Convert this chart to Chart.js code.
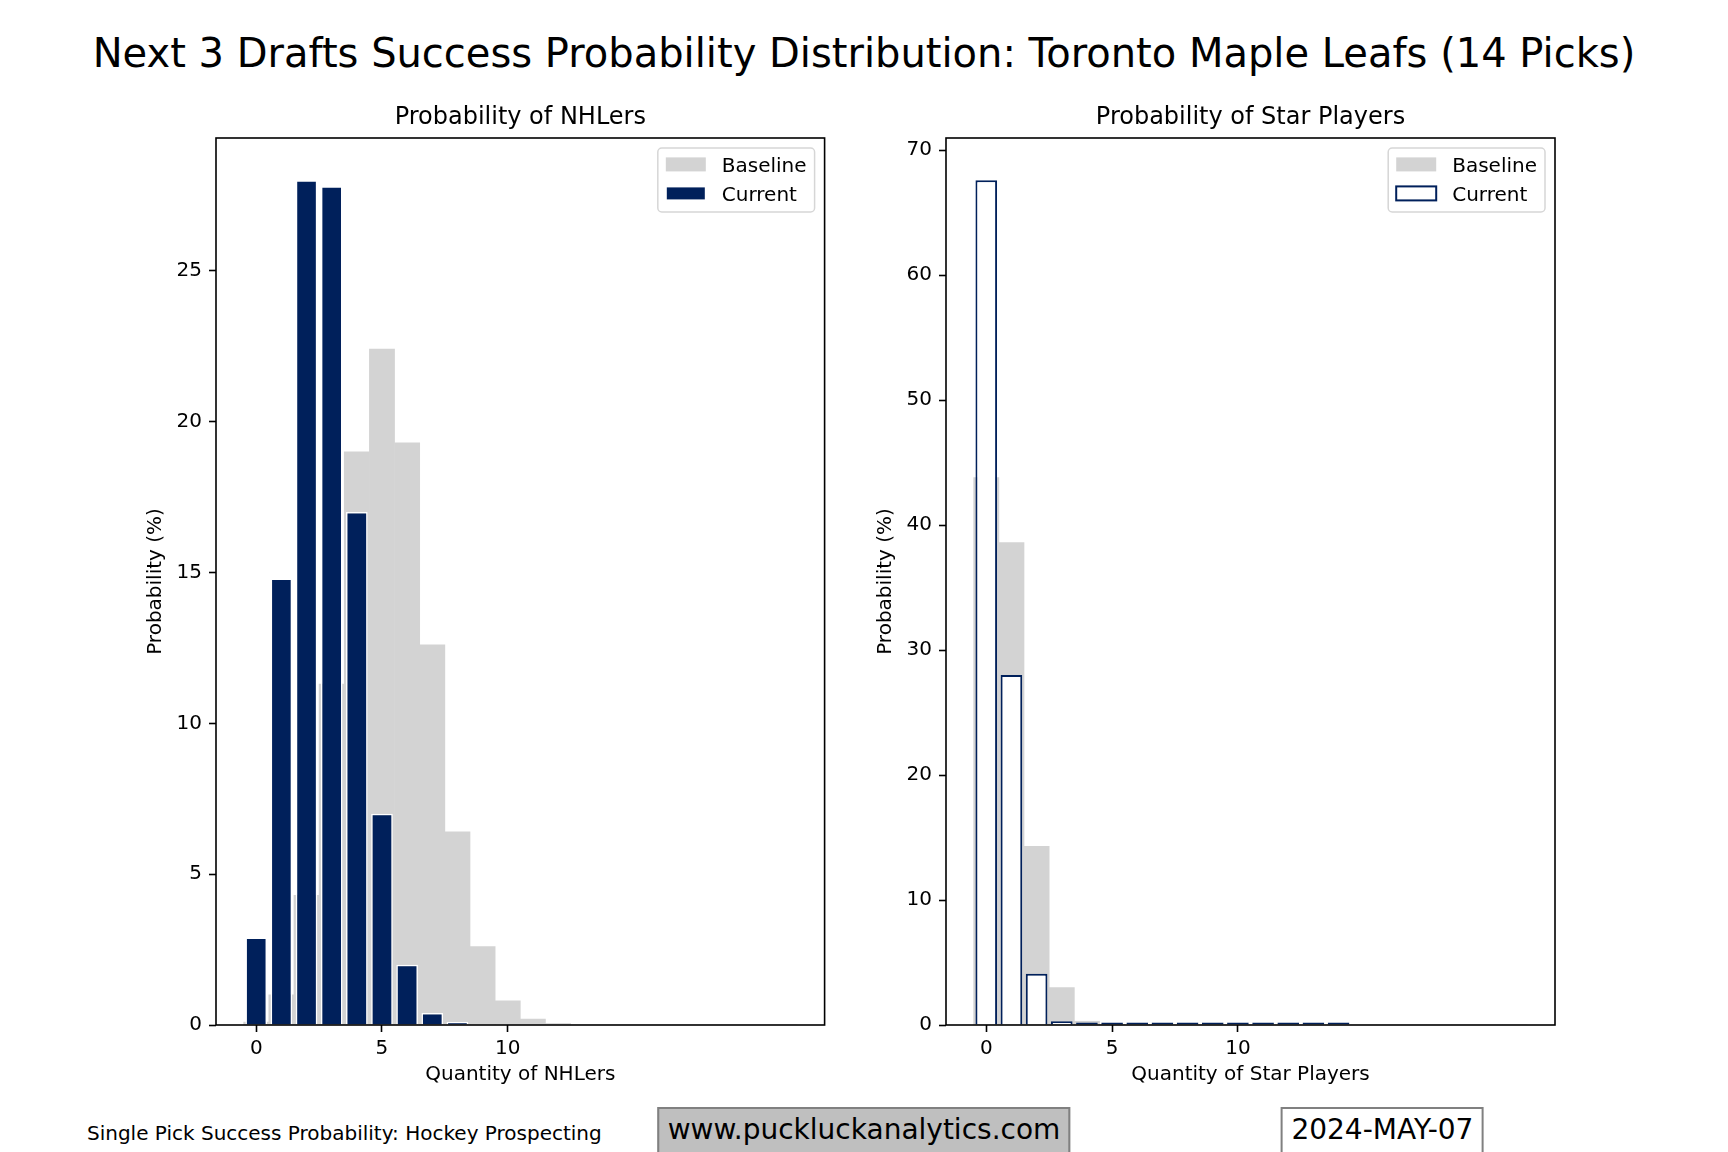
<!DOCTYPE html>
<html>
<head>
<meta charset="utf-8">
<title>Next 3 Drafts Success Probability Distribution</title>
<script src="https://cdn.jsdelivr.net/npm/chart.js@4.4.1/dist/chart.umd.min.js"></script>
<style>
  html, body { margin: 0; padding: 0; background: #fff; overflow: hidden; }
  body { width: 1728px; height: 1152px; position: relative; font-family: "DejaVu Sans", sans-serif; color: #000; }
  .abs { position: absolute; white-space: nowrap; line-height: 1; }
  #suptitle { left: 864px; top: 32.7px; font-size: 40px; transform: translateX(-50%); }
  #source { left: 87px; top: 1123px; font-size: 20px; }
  .tag { position: absolute; top: 1107px; transform: translateX(-50%); font-size: 28px; line-height: 28px;
         padding: 7px 8.4px 20px; border: 2px solid #808080; white-space: nowrap; }
  canvas { position: absolute; }
</style>
</head>
<body>
<div id="suptitle" class="abs">Next 3 Drafts Success Probability Distribution: Toronto Maple Leafs (14 Picks)</div>
<canvas id="nhlChart" width="740" height="1010" style="left:100px; top:80px;"></canvas>
<canvas id="starChart" width="760" height="1010" style="left:830px; top:80px;"></canvas>
<div id="source" class="abs">Single Pick Success Probability: Hockey Prospecting</div>
<div class="tag" style="left:864px; background:#bfbfbf;">www.puckluckanalytics.com</div>
<div class="tag" style="left:1382.4px; background:#fff;">2024-MAY-07</div>
<script>
// number of successful picks (baseline covers 21 picks, current 14)
const quantities = [0, 1, 2, 3, 4, 5, 6, 7, 8, 9, 10, 11, 12, 13, 14, 15, 16, 17, 18, 19, 20, 21];

// probability (%) of NHLers
const nhlBaseline = [0.1, 1.0, 4.3, 11.3, 19.0, 22.4, 19.3, 12.6, 6.4, 2.6, 0.8, 0.2, 0.05, 0, 0, 0, 0, 0, 0, 0, 0, 0];
const nhlCurrent = [2.9, 14.8, 28.0, 27.8, 17.0, 7.0, 2.0, 0.4, 0.1, 0, 0, 0, 0, 0, 0];

// probability (%) of star players
const starBaseline = [43.8, 38.6, 14.3, 3.0, 0.3, 0.03, 0, 0, 0, 0, 0, 0, 0, 0, 0, 0, 0, 0, 0, 0, 0, 0];
const starCurrent = [67.6, 28.0, 4.1, 0.3, 0, 0, 0, 0, 0, 0, 0, 0, 0, 0, 0];

// tick labels
const xTicks = [0, 5, 10];
const nhlYTicks = [0, 5, 10, 15, 20, 25];
const starYTicks = [0, 10, 20, 30, 40, 50, 60, 70];

const navy = '#00205b';
const lightGray = '#d3d3d3';

Chart.defaults.font.family = '"DejaVu Sans", sans-serif';
Chart.defaults.font.size = 20;
Chart.defaults.color = '#000';

const toPoints = (values) => values.map((v, i) => ({ x: quantities[i], y: v }));

// Box around the plot area, like matplotlib spines
const frame = {
  id: 'frame',
  afterDatasetsDraw(chart) {
    const { ctx, chartArea: a } = chart;
    ctx.save();
    ctx.strokeStyle = '#000';
    ctx.lineWidth = 1.6;
    ctx.strokeRect(a.left, a.top, a.right - a.left, a.bottom - a.top);
    ctx.restore();
  }
};

// Legend inside the plot area, upper right corner
const boxLegend = {
  id: 'boxLegend',
  afterDraw(chart) {
    const { ctx, chartArea: a } = chart;
    const items = chart.data.datasets.slice().sort((p, q) => q.order - p.order);
    ctx.save();
    ctx.font = '20px "DejaVu Sans"';
    const textW = Math.max(...items.map(d => ctx.measureText(d.label).width));
    const w = 8 + 40 + 16 + textW + 8;
    const h = 64;
    const x = a.right - 10 - w;
    const y = a.top + 10;
    ctx.beginPath();
    ctx.roundRect(x, y, w, h, 4);
    ctx.fillStyle = 'rgba(255,255,255,0.8)';
    ctx.fill();
    ctx.strokeStyle = '#d6d6d6';
    ctx.lineWidth = 1.5;
    ctx.stroke();
    items.forEach((d, i) => {
      const cy = y + 16.4 + i * 29;
      ctx.fillStyle = d.backgroundColor;
      ctx.fillRect(x + 8, cy - 7, 40, 14);
      if (d.borderWidth) {
        ctx.strokeStyle = d.borderColor;
        ctx.lineWidth = 2;
        ctx.strokeRect(x + 8, cy - 7, 40, 14);
      }
      ctx.fillStyle = '#000';
      ctx.textBaseline = 'alphabetic';
      ctx.fillText(d.label, x + 64, cy + 7.2);
    });
    ctx.restore();
  }
};

const tickGrid = {
  display: true, drawOnChartArea: false, drawTicks: true,
  tickLength: 7, tickWidth: 1.6, tickColor: '#000', offset: false
};

const makeOptions = (title, xTitle, yMax, yTicks, padRight) => ({
  responsive: false,
  animation: false,
  layout: { padding: { left: 0, right: padRight, top: 0, bottom: 0 } },
  plugins: {
    legend: { display: false },
    tooltip: { enabled: false },
    title: {
      display: true, text: title, color: '#000', fullSize: false,
      font: { size: 24, weight: 'normal', lineHeight: 1.2 },
      padding: { top: 23.3, bottom: 5.9 }
    }
  },
  scales: {
    x: {
      type: 'linear',
      min: quantities[0] - 0.5 - 0.05 * quantities.length,
      max: quantities[quantities.length - 1] + 0.5 + 0.05 * quantities.length,
      offset: false,
      afterBuildTicks: (s) => { s.ticks = xTicks.map(v => ({ value: v })); },
      afterFit: (s) => { s.height = 65; },
      ticks: { padding: 5, maxRotation: 0, autoSkip: false },
      grid: tickGrid,
      border: { display: false },
      title: { display: true, text: xTitle, padding: { top: 0, bottom: 3.2 }, font: { size: 20, lineHeight: 1.2 } }
    },
    y: {
      type: 'linear',
      min: 0,
      max: yMax,
      afterBuildTicks: (s) => { s.ticks = yTicks.map(v => ({ value: v })); },
      afterFit: (s) => { s.width = 116; },
      ticks: { padding: 7 },
      grid: tickGrid,
      border: { display: false },
      title: { display: true, text: 'Probability (%)', padding: { top: 44, bottom: 0 }, font: { size: 20, lineHeight: 1.2 } }
    }
  }
});

new Chart(document.getElementById('nhlChart'), {
  type: 'bar',
  data: {
    datasets: [
      {
        label: 'Baseline', data: toPoints(nhlBaseline), order: 2, grouped: false,
        backgroundColor: lightGray, borderWidth: 0, barPercentage: 1, categoryPercentage: 1
      },
      {
        label: 'Current', data: toPoints(nhlCurrent), order: 1, grouped: false,
        backgroundColor: navy, borderColor: '#fff', borderWidth: 1.5, barPercentage: 0.86, categoryPercentage: 1
      }
    ]
  },
  options: makeOptions('Probability of NHLers', 'Quantity of NHLers',
    Math.max(...nhlBaseline, ...nhlCurrent) * 1.05, nhlYTicks, 15.4),
  plugins: [frame, boxLegend]
});

new Chart(document.getElementById('starChart'), {
  type: 'bar',
  data: {
    datasets: [
      {
        label: 'Baseline', data: toPoints(starBaseline), order: 2, grouped: false,
        backgroundColor: lightGray, borderWidth: 0, barPercentage: 1, categoryPercentage: 1
      },
      {
        label: 'Current', data: toPoints(starCurrent), order: 1, grouped: false,
        backgroundColor: '#fff', borderColor: navy, borderWidth: 2, barPercentage: 0.86, categoryPercentage: 1,
        minBarLength: 2.5,
        borderSkipped: (c) => (c.raw && c.raw.y === 0) ? false : 'start'
      }
    ]
  },
  options: makeOptions('Probability of Star Players', 'Quantity of Star Players',
    Math.max(...starBaseline, ...starCurrent) * 1.05, starYTicks, 35),
  plugins: [frame, boxLegend]
});
</script>
</body>
</html>
